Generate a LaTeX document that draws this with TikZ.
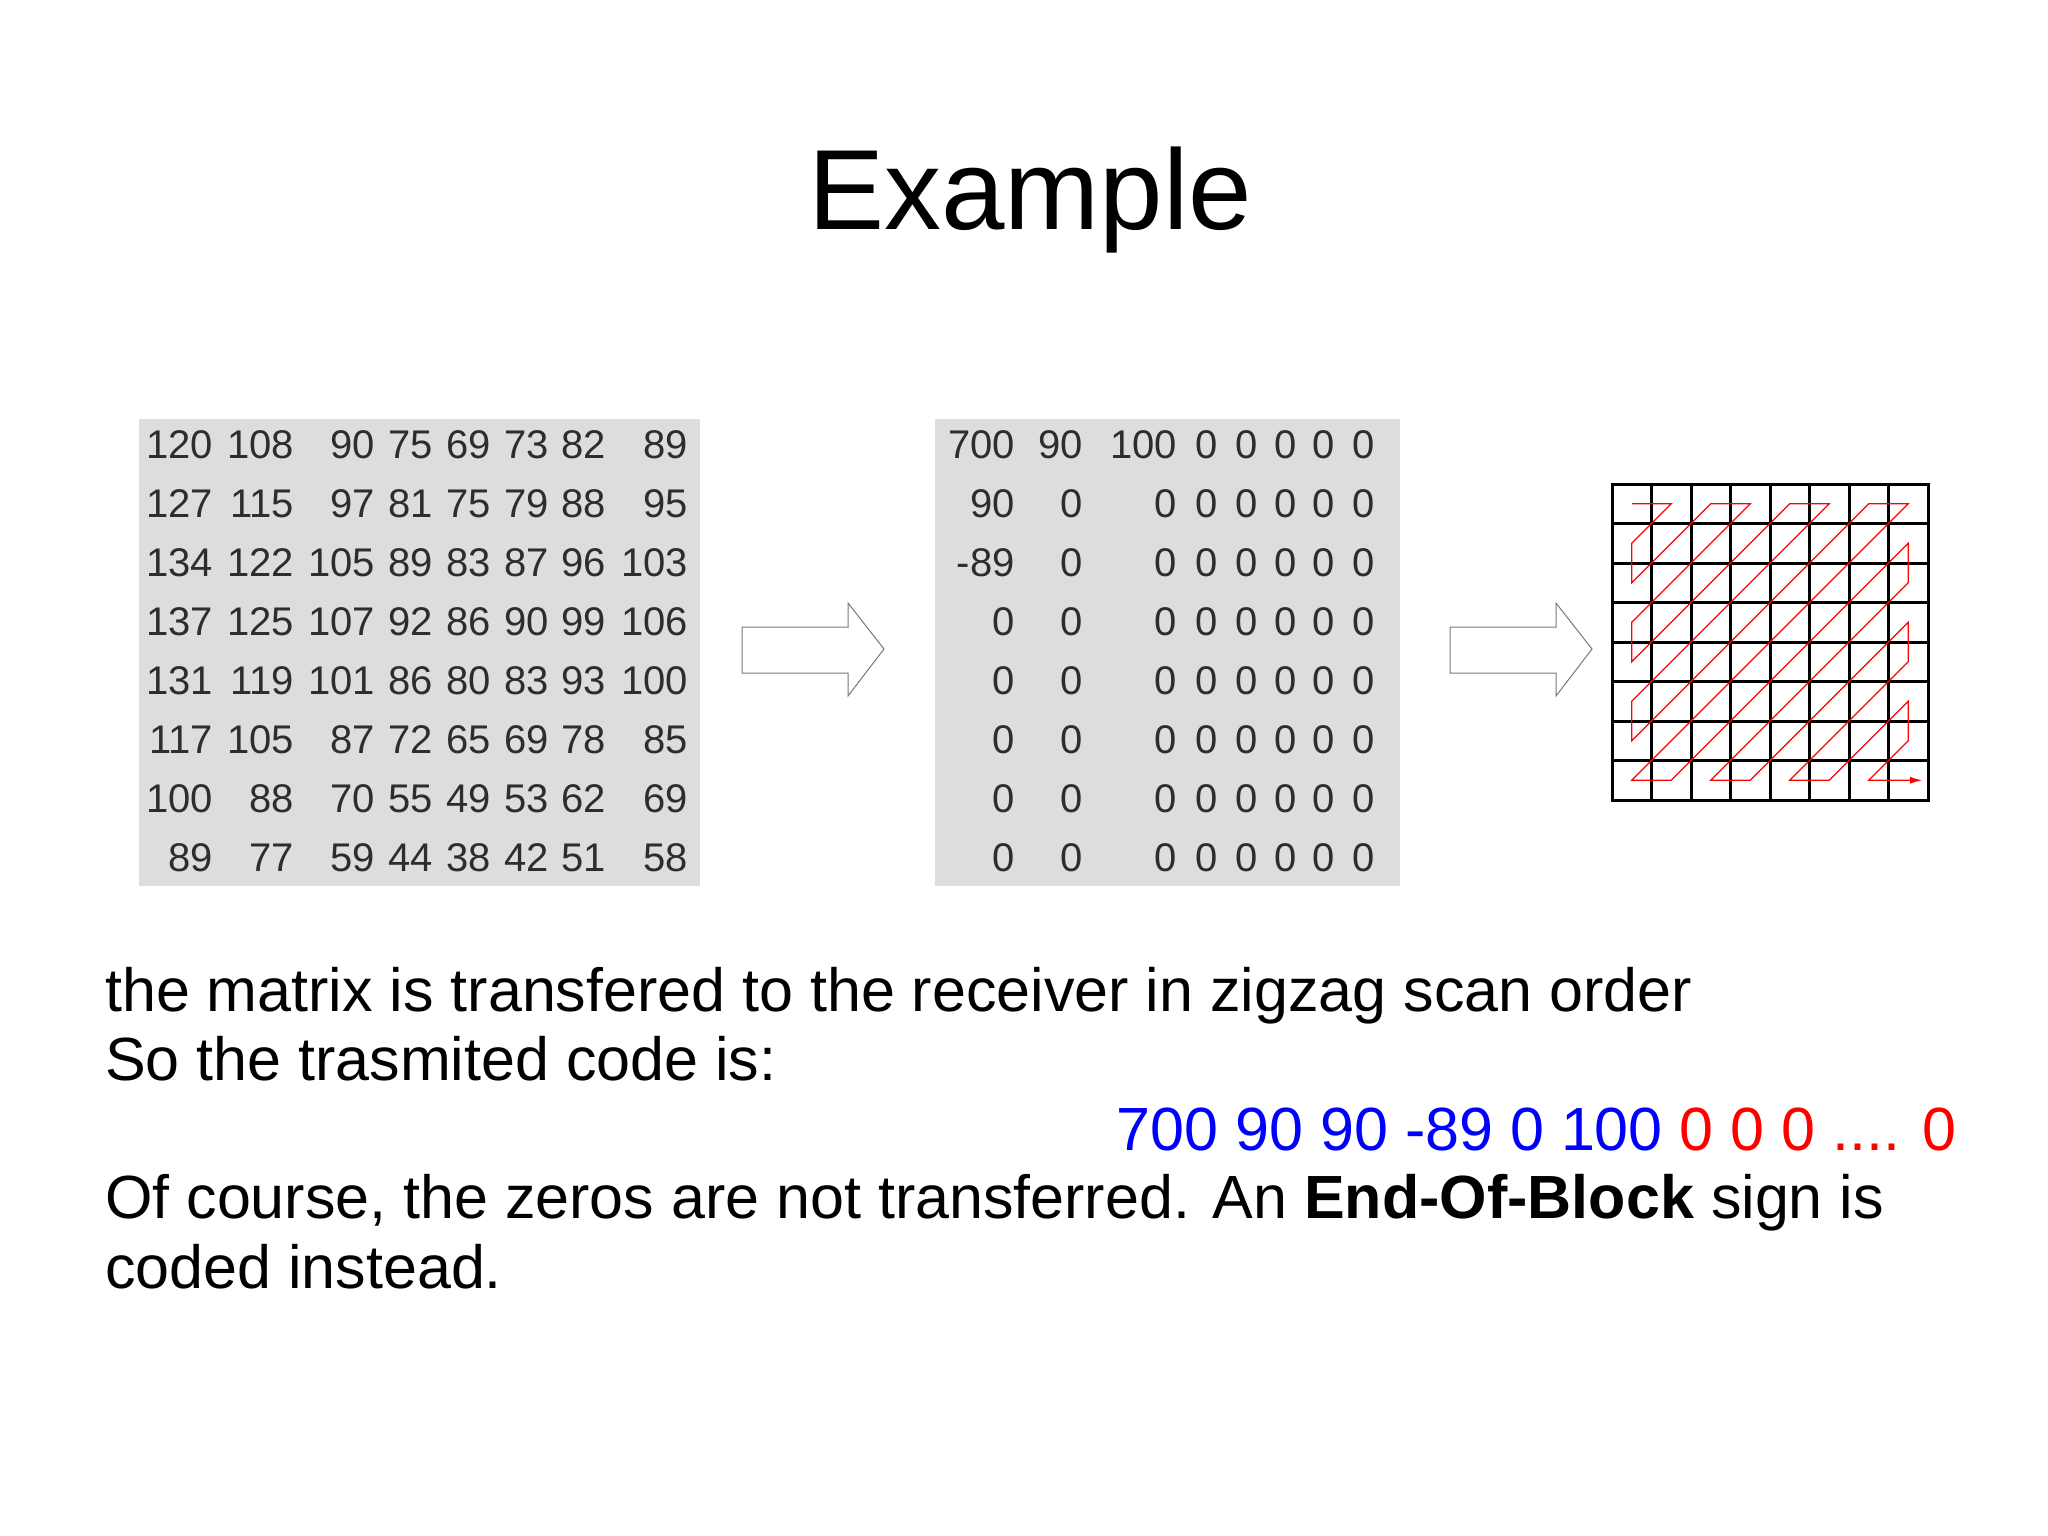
\documentclass[tikz,border=0pt]{standalone}
\usepackage{fontspec}
\setmainfont{Liberation Sans}
\usetikzlibrary{arrows.meta}
\definecolor{boxgray}{RGB}{221,221,221}
\definecolor{numgray}{RGB}{45,45,45}
\definecolor{arrowgray}{RGB}{120,120,120}
\definecolor{codeblue}{RGB}{0,0,255}
\definecolor{codered}{RGB}{255,0,0}
\tikzset{
  num/.style={anchor=base east,inner sep=0pt,text=numgray,font=\fontsize{40}{40}\selectfont},
  body/.style={anchor=base west,inner sep=0pt,font=\fontsize{61}{61}\selectfont},
  blockarrow/.style={draw=arrowgray,line width=1pt,fill=white},
}
\begin{document}
\begin{tikzpicture}[x=1pt,y=-1pt]
\useasboundingbox (0,0) rectangle (2048,1535);
\fill[white] (0,0) rectangle (2048,1535);
% title
\node[anchor=base,inner sep=0pt,font=\fontsize{114}{114}\selectfont] (title) at (1030,229) {Example};
% matrix 1
\fill[boxgray] (139,419) rectangle (700,886);
\def\xa{{213,294,375,433,491,549,606,688}}
\def\ya{{458,517,576,635,694,753,812,871}}
\foreach \row [count=\r from 0] in {
 {120,108,90,75,69,73,82,89},
 {127,115,97,81,75,79,88,95},
 {134,122,105,89,83,87,96,103},
 {137,125,107,92,86,90,99,106},
 {131,119,101,86,80,83,93,100},
 {117,105,87,72,65,69,78,85},
 {100,88,70,55,49,53,62,69},
 {89,77,59,44,38,42,51,58}}{
  \foreach \v [count=\c from 0] in \row {
    \pgfmathsetmacro\px{\xa[\c]}\pgfmathsetmacro\py{\ya[\r]}
    \node[num] (ma-\r-\c) at (\px,\py) {\v};
  }
}
% arrow 1
\draw[blockarrow] (742,627) -- (848,627) -- (848,603) -- (884,649) -- (848,696) -- (848,673) -- (742,673) -- cycle;
% matrix 2
\fill[boxgray] (935,419) rectangle (1400,886);
\def\xb{{1015,1083,1177,1218,1258,1297,1335,1375}}
\foreach \row [count=\r from 0] in {
 {700,90,100,0,0,0,0,0},
 {90,0,0,0,0,0,0,0},
 {-89,0,0,0,0,0,0,0},
 {0,0,0,0,0,0,0,0},
 {0,0,0,0,0,0,0,0},
 {0,0,0,0,0,0,0,0},
 {0,0,0,0,0,0,0,0},
 {0,0,0,0,0,0,0,0}}{
  \foreach \v [count=\c from 0] in \row {
    \pgfmathsetmacro\px{\xb[\c]}\pgfmathsetmacro\py{\ya[\r]}
    \node[num] (mb-\r-\c) at (\px,\py) {\v};
  }
}
% arrow 2
\draw[blockarrow] (1450,627) -- (1556,627) -- (1556,603) -- (1592,649) -- (1556,696) -- (1556,673) -- (1450,673) -- cycle;
% zigzag grid
\begin{scope}[shift={(1612,484)},x=39.5pt,y=-39.5pt]
  \foreach \i in {0,...,8} {
    \draw[line width=3pt,line cap=rect] (\i,0) -- (\i,8);
    \draw[line width=3pt,line cap=rect] (0,\i) -- (8,\i);
  }
  \draw[codered,line width=1.2pt,-{Latex[length=12pt,width=7pt]}]
    (0.5,0.5) -- (1.5,0.5) -- (0.5,1.5) -- (0.5,2.5) -- (2.5,0.5) -- (3.5,0.5)
    -- (0.5,3.5) -- (0.5,4.5) -- (4.5,0.5) -- (5.5,0.5) -- (0.5,5.5) -- (0.5,6.5)
    -- (6.5,0.5) -- (7.5,0.5) -- (0.5,7.5) -- (1.5,7.5) -- (7.5,1.5) -- (7.5,2.5)
    -- (2.5,7.5) -- (3.5,7.5) -- (7.5,3.5) -- (7.5,4.5) -- (4.5,7.5) -- (5.5,7.5)
    -- (7.5,5.5) -- (7.5,6.5) -- (6.5,7.5) -- (7.85,7.5);
\end{scope}
% text
\node[body] (t1) at (105,1011) {the matrix is transfered to the receiver in zigzag scan order};
\node[body] (t2) at (105,1080) {So the trasmited code is:};
\node[body,anchor=base east] (t3) at (1957,1150) {\textcolor{codeblue}{700 90 90 -89 0 100} \textcolor{codered}{0 0 0 .... 0}};
\node[body] (t4) at (105,1218) {Of course, the zeros are not transferred. An \textbf{End-Of-Block} sign is};
\node[body] (t5) at (105,1288) {coded instead.};
\end{tikzpicture}
\end{document}
